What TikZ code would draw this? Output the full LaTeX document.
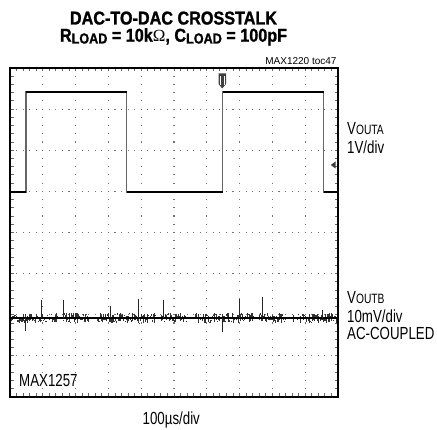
\documentclass[tikz,border=0pt]{standalone}
\usepackage{fontspec}
\setmainfont{Liberation Sans}
\newfontfamily\labfont[FakeStretch=0.76]{Liberation Sans}
\newfontfamily\titlefont[FakeStretch=0.87, BoldFeatures={FakeBold=1.3}]{Liberation Sans}
\newfontfamily\omegafont{Liberation Serif}
\tikzset{
  frame/.style={line width=2.6pt, draw=black},
  gridv/.style={draw=black!55, line width=1.1pt, dash pattern=on 1.1pt off 7.125pt, dash phase=0.55pt},
  gridh/.style={draw=black!55, line width=1.1pt, dash pattern=on 1.1pt off 5.46pt, dash phase=0.55pt},
  edgetick/.style={draw=black!60, line width=0.9pt},
  wavethin/.style={draw=black!60, line width=1.1pt},
  wavethick/.style={draw=black, line width=2.2pt},
  noisetick/.style={draw=black!80, line width=0.75pt},
  spike/.style={draw=black!85, line width=0.9pt},
  lab/.style={inner sep=0pt, anchor=base west, font=\labfont\fontsize{17.5}{17.5}\selectfont},
  ttl/.style={inner sep=0pt, anchor=base, font=\titlefont\bfseries\fontsize{18.6}{20}\selectfont},
}
\newcommand{\subsm}[1]{{\fontsize{13.5}{13.5}\selectfont #1}}
\newcommand{\tsub}[1]{\raisebox{-1.8pt}{\fontsize{14.5}{15}\selectfont #1}}
\begin{document}
\begin{tikzpicture}[x=1pt,y=-1pt]
\useasboundingbox (0,0) rectangle (437,430);
% grid
\foreach \k in {1,...,9}{
  \draw[gridv] (10+32.8*\k,68) -- (10+32.8*\k,397);
}
\foreach \k in {1,...,7}{
  \draw[gridh] (10,68+41.125*\k) -- (338,68+41.125*\k);
}
% edge ticks
\foreach \j in {1,...,49}{
  \draw[edgetick] (10+6.56*\j,68) -- (10+6.56*\j,71.5);
  \draw[edgetick] (10+6.56*\j,397) -- (10+6.56*\j,393.5);
}
\foreach \j in {1,...,39}{
  \draw[edgetick] (10,68+8.225*\j) -- (13.5,68+8.225*\j);
  \draw[edgetick] (338,68+8.225*\j) -- (334.5,68+8.225*\j);
}
% square wave (VOUTA)
\draw[wavethin] (11,192) -- (26,192) -- (26,92) -- (126.5,92) -- (126.5,192)
  -- (222.5,192) -- (222.5,92) -- (323.5,92) -- (323.5,192) -- (337,192);
\draw[wavethick] (11,192) -- (26,192);
\draw[wavethick] (26,92) -- (126.5,92);
\draw[wavethick] (126.5,192) -- (222.5,192);
\draw[wavethick] (222.5,92) -- (323.5,92);
\draw[wavethick] (323.5,192) -- (337,192);
% noise trace (VOUTB)
\pgfmathsetseed{11}
\foreach \i in {0,...,325}{
  \pgfmathsetmacro\xx{11+1.0*\i}
  \pgfmathsetmacro\ph{mod(\xx-10,98)}
  \pgfmathsetmacro\am{((\ph>47 && \ph<53) || (\ph>79 && \ph<87)) ? 0.4 : 5}
  \pgfmathsetmacro\ya{318+\am*rand}
  \pgfmathsetmacro\yb{318+\am*rand}
  \draw[noisetick] (\xx,\ya) -- (\xx,\yb);
}
\draw[line width=1.8pt] (11,318) -- (337,318);
\foreach \sx/\sy in {25/331, 41.7/300, 63.3/300, 110/306, 138/299, 163/300, 222.7/331.7, 239/299, 262.7/297, 322/310}{
  \draw[spike] (\sx,318) -- (\sx,\sy);
}
% trigger marker
\fill[black!75] (218.5,73.5) -- (226,73.5) -- (226,84) -- (222.25,88.5) -- (218.5,84) -- cycle;
\draw[white, line width=0.6pt] (220.7,76) -- (220.7,85);
\draw[white, line width=0.6pt] (223.8,76) -- (223.8,85);
% ground marker
\fill[black!75] (330.8,165) -- (335.5,161.5) -- (335.5,168.5) -- cycle;
% frame
\draw[frame] (10,68) rectangle (338,397);
% texts
\node[ttl] (t1) at (173.5,24.5) {DAC-TO-DAC CROSSTALK};
\node[ttl] (t2) at (173.5,41.7) {R\tsub{LOAD} = 10k{\omegafont\mdseries\fontsize{17}{20}\selectfont Ω}, C\tsub{LOAD} = 100pF};
\node[inner sep=0pt, anchor=base east, font=\fontsize{10}{10}\selectfont] (toc) at (336.7,65) {MAX1220 toc47};
\node[lab] (va) at (347,135) {V\subsm{OUTA}};
\node[lab] (vad) at (347,153.3) {1V/div};
\node[lab] (vb) at (347,304) {V\subsm{OUTB}};
\node[lab] (vbd) at (347,322.5) {10mV/div};
\node[lab] (vbc) at (347,339.5) {AC-COUPLED};
\node[lab] (part) at (19,386.7) {MAX1257};
\node[lab] (tdiv) at (142.5,425) {100µs/div};
\end{tikzpicture}
\end{document}
